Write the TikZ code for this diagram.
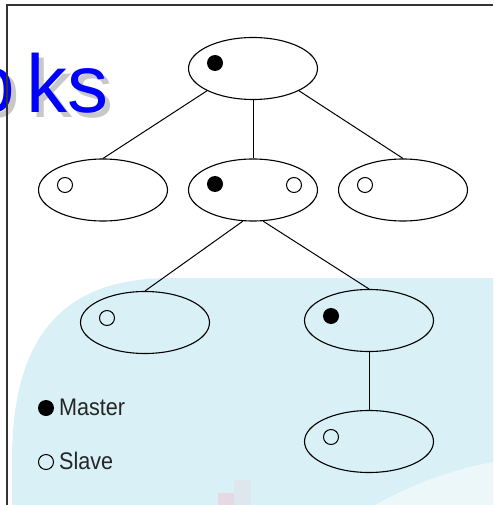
\documentclass[tikz,border=0pt]{standalone}
\usepackage{fontspec}
\setmainfont{Liberation Sans}
\usetikzlibrary{shapes.geometric}
\definecolor{slidebg}{RGB}{216,240,246}
\definecolor{slidewave}{RGB}{236,247,250}
\definecolor{barpink}{RGB}{230,218,226}
\definecolor{barblue}{RGB}{222,230,238}
\definecolor{titleblue}{RGB}{0,0,255}
\definecolor{titleshadow}{RGB}{200,200,200}
\begin{document}
\begin{tikzpicture}[x=1pt, y=-1pt]
	\tikzstyle{group}=[ellipse, draw=black, line width=1.1pt, minimum width=129pt, minimum height=62pt, inner sep=0pt]
	\tikzstyle{master}=[circle, fill=black, minimum size=16pt, inner sep=0pt]
	\tikzstyle{slave}=[circle, draw=black, line width=1pt, minimum size=15pt, inner sep=0pt]
	\tikzstyle{legend}=[anchor=base west, inner sep=0pt, xscale=0.9, font=\fontsize{24}{24}\selectfont, text=black!85]
	\tikzstyle{title}=[anchor=base west, inner sep=0pt, font=\fontsize{82}{82}\selectfont]
	\tikzstyle{edge}=[line width=1pt, black]
	\useasboundingbox (0, 0) rectangle (493, 505);
	% background of the slide
	\fill[slidebg] (12, 505) -- (12, 460) .. controls (12, 340) and (60, 278) .. (170, 278) -- (493, 278) -- (493, 505) -- cycle;
	\fill[slidewave] (375, 505) .. controls (420, 480) and (460, 468) .. (493, 462) -- (493, 505) -- cycle;
	\fill[barpink] (218, 493) rectangle (234, 505);
	\fill[barblue] (234, 480) rectangle (251, 505);
	% title
	\draw node[title, text=titleshadow] at (-26, 118) (shadow) {o\kern12pt ks};
	\draw node[title, text=titleblue] at (-31, 113) (title) {o\kern12pt ks};
	\draw[line width=1.2pt, black!80] (7, 505) -- (7, 5) -- (493, 5);

	\draw node[group] at (253, 68.5) (root) {};
	\draw node[group] at (103, 190) (left) {};
	\draw node[group] at (253, 190) (mid) {};
	\draw node[group] at (403, 190) (right) {};
	\draw node[group] at (145, 322.5) (midleft) {};
	\draw node[group] at (369, 320.5) (midright) {};
	\draw node[group] at (369, 441.5) (leaf) {};

	\draw node[master] at (215, 63) (root-m) {};
	\draw node[slave] at (65, 185) (left-s) {};
	\draw node[master] at (215, 184) (mid-m) {};
	\draw node[slave] at (294, 185) (mid-s) {};
	\draw node[slave] at (365, 185) (right-s) {};
	\draw node[slave] at (107, 318) (midleft-s) {};
	\draw node[master] at (331, 316) (midright-m) {};
	\draw node[slave] at (331, 437) (leaf-s) {};

	\draw node[master] at (46, 408) (key-m) {};
	\draw node[legend] at (59, 415) (key-mtext) {Master};
	\draw node[slave] at (46, 462) (key-s) {};
	\draw node[legend] at (59, 469) (key-stext) {Slave};

	\draw [edge] (root.south west) -- (left.north);
	\draw [edge] (root.south) -- (mid.north);
	\draw [edge] (root.south east) -- (right.north);
	\draw [edge] (mid.252) -- (midleft.north);
	\draw [edge] (mid.288) -- (midright.north);
	\draw [edge] (midright.south) -- (leaf.north);
\end{tikzpicture}
\end{document}
